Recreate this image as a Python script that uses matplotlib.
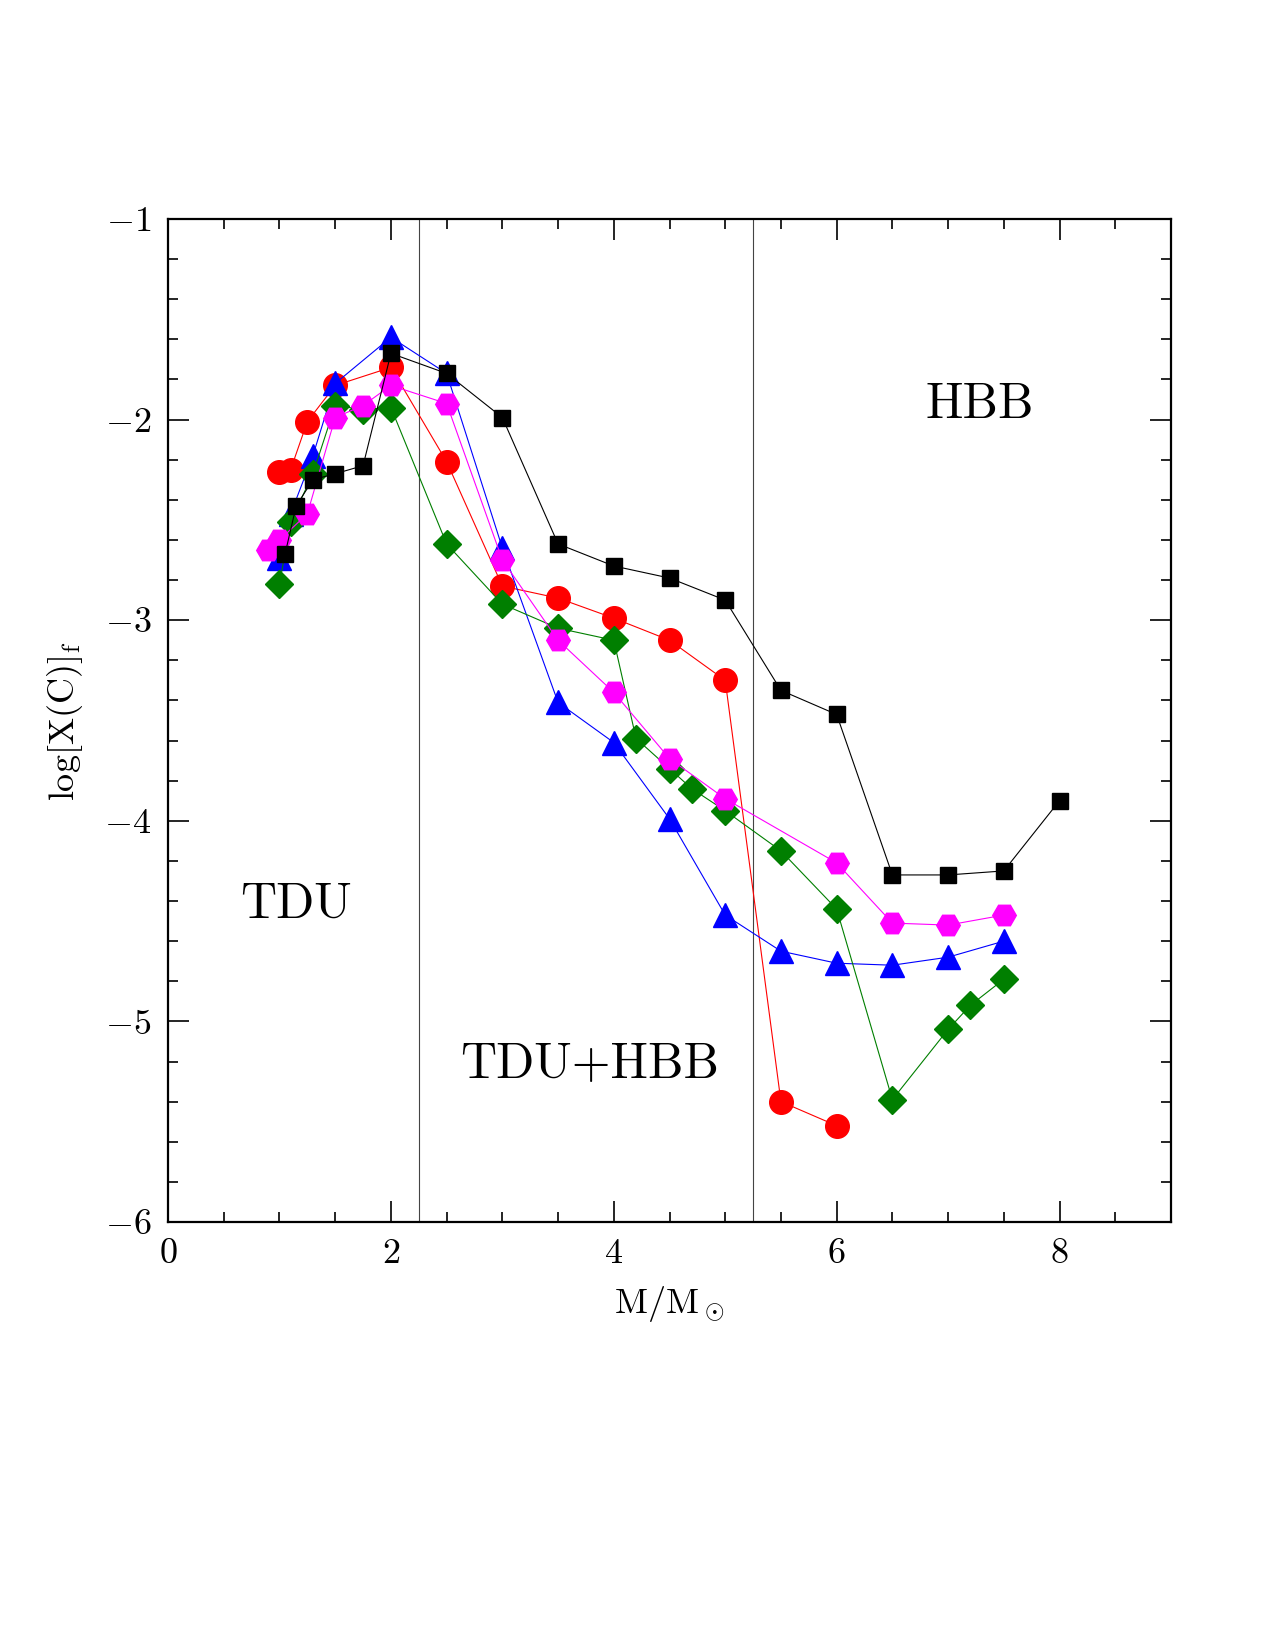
import matplotlib
matplotlib.use("Agg")
import matplotlib.pyplot as plt
from matplotlib.ticker import MultipleLocator, FuncFormatter

plt.rcParams['mathtext.fontset'] = 'cm'
plt.rcParams['font.family'] = ['cmr10', 'DejaVu Serif']
plt.rcParams['axes.unicode_minus'] = False

# black squares
m_black = [1.05, 1.15, 1.3, 1.5, 1.75, 2.0, 2.5, 3.0, 3.5, 4.0, 4.5, 5.0, 5.5, 6.0, 6.5, 7.0, 7.5, 8.0]
c_black = [-2.67, -2.43, -2.30, -2.27, -2.23, -1.67, -1.77, -1.99, -2.62, -2.73, -2.79, -2.90, -3.35, -3.47, -4.27, -4.27, -4.25, -3.90]

# red circles
m_red = [1.0, 1.1, 1.25, 1.5, 2.0, 2.5, 3.0, 3.5, 4.0, 4.5, 5.0, 5.5, 6.0]
c_red = [-2.26, -2.25, -2.01, -1.83, -1.74, -2.21, -2.83, -2.89, -2.99, -3.10, -3.30, -5.40, -5.52]

# blue triangles
m_blue = [1.0, 1.1, 1.3, 1.5, 2.0, 2.5, 3.0, 3.5, 4.0, 4.5, 5.0, 5.5, 6.0, 6.5, 7.0, 7.5]
c_blue = [-2.69, -2.47, -2.18, -1.82, -1.59, -1.77, -2.64, -3.41, -3.61, -3.99, -4.47, -4.65, -4.71, -4.72, -4.68, -4.60]

# magenta hexagons
m_mag = [0.9, 1.0, 1.25, 1.5, 1.75, 2.0, 2.5, 3.0, 3.5, 4.0, 4.5, 5.0, 6.0, 6.5, 7.0, 7.5]
c_mag = [-2.65, -2.60, -2.47, -1.99, -1.93, -1.83, -1.92, -2.70, -3.10, -3.36, -3.69, -3.89, -4.21, -4.51, -4.52, -4.47]

# green diamonds
m_green = [1.0, 1.1, 1.3, 1.5, 1.75, 2.0, 2.5, 3.0, 3.5, 4.0, 4.2, 4.5, 4.7, 5.0, 5.5, 6.0, 6.5, 7.0, 7.2, 7.5]
c_green = [-2.82, -2.51, -2.27, -1.93, -1.95, -1.94, -2.62, -2.92, -3.04, -3.10, -3.59, -3.74, -3.84, -3.95, -4.15, -4.44, -5.39, -5.04, -4.92, -4.79]

boundaries = [2.25, 5.25]
region_labels = ["TDU", "TDU+HBB", "HBB"]
region_pos = [(1.15, -4.42), (3.78, -5.22), (7.28, -1.93)]

fig = plt.figure(figsize=(12.75, 16.5), dpi=100)
ax = fig.add_axes([0.1318, 0.2594, 0.9184 - 0.1318, 0.8673 - 0.2594])

for b in boundaries:
    ax.axvline(b, color='#444444', lw=0.8, zorder=1)

lw = 0.8
ax.plot(m_red, c_red, '-', color='red', lw=lw, marker='o', ms=17, mec='red', zorder=2)
ax.plot(m_blue, c_blue, '-', color='blue', lw=lw, marker='^', ms=17, mec='blue', zorder=3)
ax.plot(m_green, c_green, '-', color='#007f00', lw=lw, marker='D', ms=14, mec='#007f00', zorder=4)
ax.plot(m_mag, c_mag, '-', color='magenta', lw=lw, marker='H', ms=17, mec='magenta', zorder=5)
ax.plot(m_black, c_black, '-', color='black', lw=lw, marker='s', ms=11.5, mec='black', zorder=6)

for t, (x, y) in zip(region_labels, region_pos):
    ax.text(x, y, t, fontsize=36, ha='center', va='center', family='cmr10')

ax.set_xlim(0, 9)
ax.set_ylim(-6, -1)
ax.xaxis.set_major_locator(MultipleLocator(2))
ax.xaxis.set_minor_locator(MultipleLocator(0.5))
ax.yaxis.set_major_locator(MultipleLocator(1))
ax.yaxis.set_minor_locator(MultipleLocator(0.2))
fmt = FuncFormatter(lambda v, p: r'$%d$' % round(v))
ax.xaxis.set_major_formatter(fmt)
ax.yaxis.set_major_formatter(fmt)
ax.tick_params(which='both', direction='in', top=True, right=True, width=1.2, labelsize=26)
ax.tick_params(which='major', length=15, pad=12)
ax.tick_params(which='minor', length=7.5)
for s in ax.spines.values():
    s.set_linewidth(1.6)

ax.set_xlabel(r'$\mathrm{M/M_\odot}$', fontsize=26, labelpad=10)
ax.set_ylabel(r'$\mathrm{log[X(C)]_f}$', fontsize=26, labelpad=14)

fig.savefig('out.png', dpi=100)
